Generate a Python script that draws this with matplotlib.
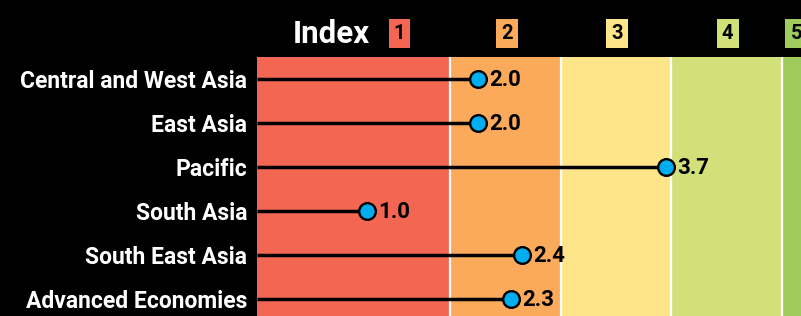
import matplotlib
matplotlib.use("Agg")
import matplotlib.pyplot as plt
from matplotlib.transforms import blended_transform_factory

# data
regions = [
    "Central and West Asia",
    "East Asia",
    "Pacific",
    "South Asia",
    "South East Asia",
    "Advanced Economies",
]
scores = [2.0, 2.0, 3.7, 1.0, 2.4, 2.3]

band_edges = [0, 1.75, 2.75, 3.75, 4.75, 5.5]
band_colors = ["#F26652", "#FAAA5A", "#FFE58A", "#D2E07A", "#A0CC5E"]
index_labels = ["1", "2", "3", "4", "5"]
index_label_x = [1.29, 2.26, 3.26, 4.26, 4.88]

font = "Roboto"
dot_color = "#00AEEF"

W, H = 801, 316
fig = plt.figure(figsize=(W / 100, H / 100), dpi=100, facecolor="black")
ax = fig.add_axes([257 / W, 0, (W - 257) / W, 259 / H])
ax.set_facecolor("black")

# coloured bands
for i, c in enumerate(band_colors):
    ax.axvspan(band_edges[i], band_edges[i + 1], color=c, lw=0, zorder=0)
for e in band_edges[1:-1]:
    ax.axvline(e, color="white", lw=1.6, zorder=1)

y = list(range(len(regions)))
ax.hlines(y, 0, scores, color="black", lw=2.5, zorder=2)
ax.plot(scores, y, "o", ms=12, mfc=dot_color, mec="black", mew=1.7, zorder=3)

for yi, v in zip(y, scores):
    ax.annotate(f"{v:.1f}", (v, yi), xytext=(8, -0.5), textcoords="offset points",
                ha="left", va="center", fontsize=16, fontweight="bold",
                family=font, color="black", zorder=4)

ax.set_xlim(0, (W - 256) / 110.7)
ax.set_ylim(5.386, -0.5)
ax.set_yticks(y)
ax.set_yticklabels(regions, fontsize=16.5, fontweight="bold", family=font, color="white")
ax.tick_params(axis="y", length=0, pad=7)
ax.set_xticks([])
for s in ax.spines.values():
    s.set_visible(False)

# header
tr = blended_transform_factory(ax.transData, ax.transAxes)
ax.text(0.32, 1.089, "Index", transform=tr, ha="left", va="center",
        fontsize=22.5, fontweight="bold", family=font, color="white")
for lab, xv, c in zip(index_labels, index_label_x, band_colors):
    ax.text(xv, 1.089, lab, transform=tr, ha="center", va="center",
            fontsize=14.5, fontweight="bold", family=font, color="black",
            bbox=dict(boxstyle="square,pad=0.25", fc=c, ec="none"), clip_on=False)

fig.savefig("out.png", dpi=100, facecolor="black")
